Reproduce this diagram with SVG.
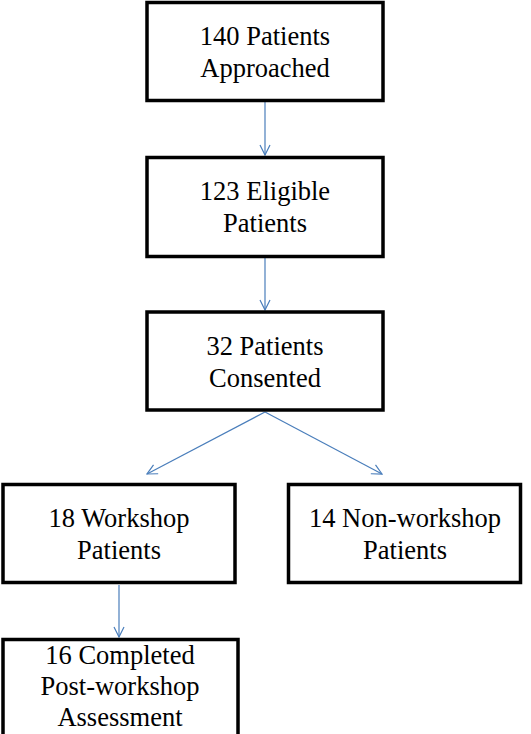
<svg xmlns="http://www.w3.org/2000/svg" width="531" height="734" viewBox="0 0 531 734">
<defs>
<style>
.box{fill:#fff;stroke:#000;stroke-width:3.5}
.c{stroke:#4a7ebb;stroke-width:1.2;fill:none}
</style>
<marker id="ah" viewBox="0 0 12 12" refX="11" refY="6" markerWidth="12" markerHeight="12" markerUnits="userSpaceOnUse" orient="auto">
<path d="M1,1 L11,6 L1,11" fill="none" stroke="#4a7ebb" stroke-width="1.2"/>
</marker>
</defs>
<rect width="531" height="734" fill="#fff"/>
<g id="connectors">
<line class="c" x1="265" y1="102" x2="265" y2="155" marker-end="url(#ah)"/>
<line class="c" x1="265" y1="258" x2="265" y2="310" marker-end="url(#ah)"/>
<line class="c" x1="265" y1="412" x2="147" y2="474" marker-end="url(#ah)"/>
<line class="c" x1="265" y1="412" x2="382" y2="474" marker-end="url(#ah)"/>
<line class="c" x1="119" y1="585" x2="119" y2="637" marker-end="url(#ah)"/>
</g>
<g font-family="Liberation Serif, DejaVu Serif, serif" font-size="26.5" fill="#000" text-anchor="middle">
<g id="n1">
<rect class="box" x="147" y="2.5" width="236" height="98"/>
<text x="265" y="45">140 Patients</text>
<text x="265" y="77">Approached</text>
</g>
<g id="n2">
<rect class="box" x="147" y="157.5" width="236" height="99"/>
<text x="265" y="200">123 Eligible</text>
<text x="265" y="232">Patients</text>
</g>
<g id="n3">
<rect class="box" x="147" y="312" width="236" height="98"/>
<text x="265" y="355">32 Patients</text>
<text x="265" y="387">Consented</text>
</g>
<g id="n4">
<rect class="box" x="3" y="484.5" width="232" height="98"/>
<text x="119" y="527">18 Workshop</text>
<text x="119" y="559">Patients</text>
</g>
<g id="n5">
<rect class="box" x="288.5" y="484.5" width="232" height="98"/>
<text x="405" y="527">14 Non-workshop</text>
<text x="405" y="559">Patients</text>
</g>
<g id="n6">
<rect class="box" x="3" y="639.5" width="235" height="110"/>
<text x="120" y="664">16 Completed</text>
<text x="120" y="695">Post-workshop</text>
<text x="120" y="726">Assessment</text>
</g>
</g>
</svg>
